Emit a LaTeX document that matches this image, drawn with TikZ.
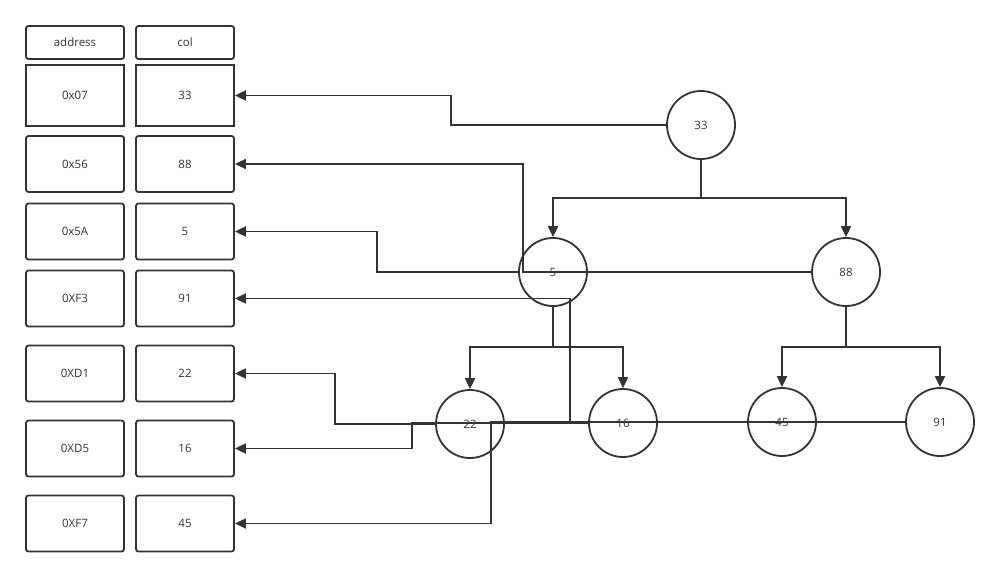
\documentclass[tikz,border=0pt]{standalone}
\usepackage{fontspec}
\setmainfont{Open Sans}
\usetikzlibrary{arrows.meta,positioning}
\definecolor{ink}{HTML}{333333}

\begin{document}
\begin{tikzpicture}[x=1pt,y=-1pt,
    cell/.style={draw=ink, line width=1.8pt, rounded corners=2.5pt, minimum width=98pt, minimum height=56pt, inner sep=0pt, text=ink, font=\fontsize{11.5}{13}\selectfont},
    headcell/.style={cell, minimum height=33pt},
    sharpcell/.style={cell, sharp corners, minimum height=61pt},
    key/.style={draw=ink, line width=1.8pt, circle, minimum size=68pt, inner sep=0pt, text=ink, font=\fontsize{11.5}{13}\selectfont},
    link/.style={draw=ink, line width=1.8pt, -{Triangle[length=11pt,width=10pt]}}]
  \useasboundingbox (0,0) rectangle (1000,578);
  % table: address / col
  \node[headcell] (ha) at (75,42.5) {address};
  \node[headcell] (hc) at (185,42.5) {col};
  \node[sharpcell] (a33) at (75,95.5) {0x07};
  \node[sharpcell] (v33) at (185,95.5) {33};
  \node[cell] (a88) at (75,164) {0x56};
  \node[cell] (v88) at (185,164) {88};
  \node[cell] (a5) at (75,231.5) {0x5A};
  \node[cell] (v5) at (185,231.5) {5};
  \node[cell] (a91) at (75,298.5) {0XF3};
  \node[cell] (v91) at (185,298.5) {91};
  \node[cell] (a22) at (75,373.5) {0XD1};
  \node[cell] (v22) at (185,373.5) {22};
  \node[cell] (a16) at (75,448.5) {0XD5};
  \node[cell] (v16) at (185,448.5) {16};
  \node[cell] (a45) at (75,523.5) {0XF7};
  \node[cell] (v45) at (185,523.5) {45};
  % tree
  \node[key] (t33) at (701,125) {33};
  \node[key] (t5) at (553,272) {5};
  \node[key] (t88) at (846,272) {88};
  \node[key] (t22) at (470,424) {22};
  \node[key] (t16) at (623,423) {16};
  \node[key] (t45) at (782,422) {45};
  \node[key] (t91) at (940,422) {91};
  \draw[link] (t33.south) -- ++(0,38) -| (t5.north);
  \draw[link] (t33.south) -- ++(0,38) -| (t88.north);
  \draw[link] (t5.south) -- ++(0,40) -| (t22.north);
  \draw[link] (t5.south) -- ++(0,40) -| (t16.north);
  \draw[link] (t88.south) -- ++(0,40) -| (t45.north);
  \draw[link] (t88.south) -- ++(0,40) -| (t91.north);
  % pointers back to the table
  \draw[link] (t33.west) -- ++(-215,0) |- (v33.east);
  \draw[link] (t88.west) -- ++(-288,0) |- (v88.east);
  \draw[link] (t5.west) -- ++(-141,0) |- (v5.east);
  \draw[link] (t91.west) -- ++(-335,0) |- (v91.east);
  \draw[link] (t22.west) -- ++(-100,0) |- (v22.east);
  \draw[link] (t16.west) -- ++(-176,0) |- (v16.east);
  \draw[link] (t45.west) -- ++(-256,0) |- (v45.east);
\end{tikzpicture}
\end{document}
